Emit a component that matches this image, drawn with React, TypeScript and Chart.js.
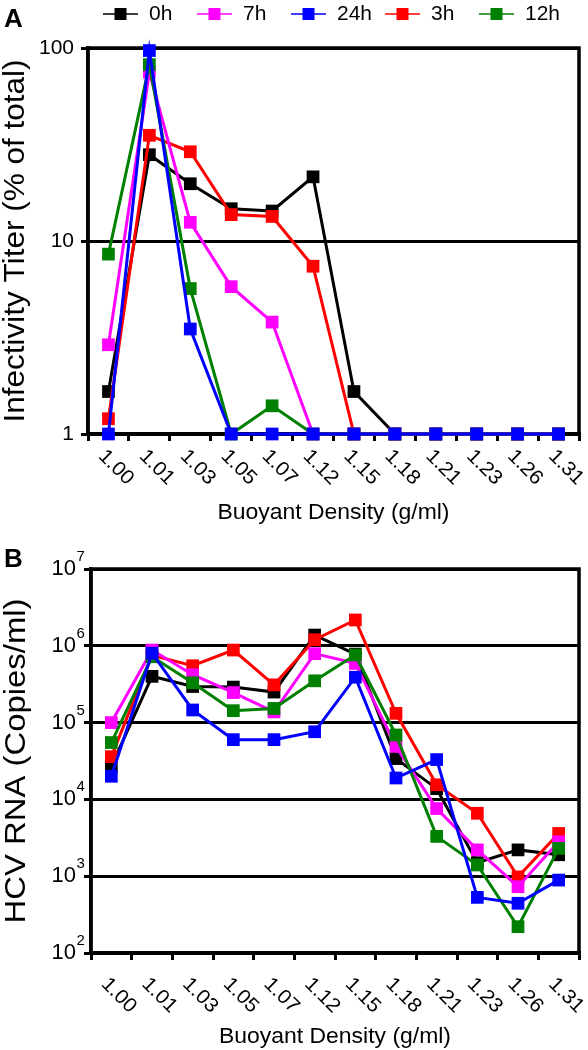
import React, { useEffect, useRef } from "react";
import { Chart, registerables } from "chart.js";

Chart.register(...registerables);

const FONT = '"Liberation Sans", Arial, Helvetica, sans-serif';

// ---- data ----
const densities = ["1.00", "1.01", "1.03", "1.05", "1.07", "1.12", "1.15", "1.18", "1.21", "1.23", "1.26", "1.31"];
const seriesNames = ["0h", "7h", "24h", "3h", "12h"];
const seriesColors = ["#000000", "#ff00ff", "#0000ff", "#ff0000", "#008000"];
// lower value = drawn on top
const seriesDrawOrder = [4, 2, 0, 3, 1];

// Panel A: infectivity titer (% of total)
const titer0h = [1.66, 28, 19.8, 14.7, 14.3, 21.5, 1.66, 1, 1, 1, 1, 1];
const titer7h = [2.9, 75, 12.5, 5.8, 3.8, 1, 1, 1, 1, 1, 1, 1];
const titer24h = [1, 97, 3.5, 1, 1, 1, 1, 1, 1, 1, 1, 1];
const titer3h = [1.2, 35.3, 29, 13.7, 13.4, 7.4, 1, 1, 1, 1, 1, 1];
const titer12h = [8.55, 82, 5.67, 1, 1.4, 1, 1, 1, 1, 1, 1, 1];
const titerTicks = [1, 10, 100];
const titerTickLabels = ["1", "10", "100"];

// Panel B: HCV RNA (copies/ml)
const rna0h = [2.7e4, 4.0e5, 2.95e5, 2.9e5, 2.5e5, 1.38e6, 7.8e5, 3.4e4, 1.38e4, 1.5e3, 2.2e3, 1.9e3];
const rna7h = [1.0e5, 8.8e5, 4.2e5, 2.46e5, 1.38e5, 7.9e5, 5.9e5, 4.9e4, 7.6e3, 2.2e3, 730, 2.8e3];
const rna24h = [2.0e4, 8.0e5, 1.46e5, 6.0e4, 6.0e4, 7.6e4, 3.9e5, 1.9e4, 3.3e4, 530, 444, 890];
const rna3h = [3.6e4, 7.5e5, 5.5e5, 8.8e5, 3.1e5, 1.2e6, 2.17e6, 1.32e5, 1.55e4, 6.6e3, 980, 3.6e3];
const rna12h = [5.5e4, 7.2e5, 3.3e5, 1.43e5, 1.53e5, 3.5e5, 7.6e5, 6.9e4, 3.3e3, 1.4e3, 220, 2.3e3];
const rnaTicks = [1e2, 1e3, 1e4, 1e5, 1e6, 1e7];
const rnaTickExponents = ["2", "3", "4", "5", "6", "7"];

const xTitle = "Buoyant Density (g/ml)";

type Panel = {
  letter: string;
  canvasHeight: number;
  area: { left: number; top: number; right: number; bottom: number };
  series: number[][];
  yMin: number;
  yMax: number;
  yTicks: number[];
  yTitle: string;
  yTitleX: number;
  yTitleLen: number;
  xLabelDy: number;
  xTitleBaseline: number;
  letterBaseline: number;
  legend: boolean;
  superscript: boolean;
};

const panelA: Panel = {
  letter: "A",
  canvasHeight: 530,
  area: { left: 88, top: 48, right: 583, bottom: 434 },
  series: [titer0h, titer7h, titer24h, titer3h, titer12h],
  yMin: 1,
  yMax: 100,
  yTicks: titerTicks,
  yTitle: "Infectivity Titer (% of total)",
  yTitleX: 16,
  yTitleLen: 363,
  xLabelDy: 19,
  xTitleBaseline: 519,
  letterBaseline: 27,
  legend: true,
  superscript: false,
};

const panelB: Panel = {
  letter: "B",
  canvasHeight: 520,
  area: { left: 91, top: 39, right: 583, bottom: 423 },
  series: [rna0h, rna7h, rna24h, rna3h, rna12h],
  yMin: 1e2,
  yMax: 1e7,
  yTicks: rnaTicks,
  yTitle: "HCV RNA (Copies/ml)",
  yTitleX: 17,
  yTitleLen: 325,
  xLabelDy: 28,
  xTitleBaseline: 513,
  letterBaseline: 37,
  legend: false,
  superscript: true,
};

type TextOpts = {
  font: string;
  rotate?: number;
  sx?: number;
  width?: number;
  align?: CanvasTextAlign;
  baseline?: CanvasTextBaseline;
  color?: string;
};

function drawText(ctx: CanvasRenderingContext2D, text: string, x: number, y: number, o: TextOpts) {
  ctx.save();
  ctx.translate(x, y);
  if (o.rotate) ctx.rotate(o.rotate);
  ctx.font = o.font;
  let sx = o.sx ?? 1;
  if (o.width) sx = o.width / ctx.measureText(text).width;
  ctx.scale(sx, 1);
  ctx.textAlign = o.align ?? "left";
  ctx.textBaseline = o.baseline ?? "alphabetic";
  ctx.fillStyle = o.color ?? "#000";
  ctx.fillText(text, 0, 0);
  ctx.restore();
}

function decorPlugin(p: Panel) {
  return {
    id: "panelDecor",
    beforeDatasetsDraw(chart: any) {
      const { ctx, chartArea: a } = chart;
      ctx.save();
      ctx.strokeStyle = "#000";
      ctx.lineWidth = 3.5;
      ctx.strokeRect(a.left, a.top, a.right - a.left, a.bottom - a.top);
      ctx.restore();
    },
    afterDraw(chart: any) {
      const ctx: CanvasRenderingContext2D = chart.ctx;
      const a = chart.chartArea;
      const xs = chart.scales.x;
      const ys = chart.scales.y;

      drawText(ctx, p.letter, 4, p.letterBaseline, { font: `bold 26px ${FONT}` });

      drawText(ctx, p.yTitle, p.yTitleX, (a.top + a.bottom) / 2, {
        font: `29px ${FONT}`,
        rotate: -Math.PI / 2,
        align: "center",
        baseline: "middle",
        width: p.yTitleLen,
      });

      densities.forEach((d, i) => {
        const x = xs.getPixelForValue(i);
        drawText(ctx, d, x - 7, a.bottom + p.xLabelDy, {
          font: `20px ${FONT}`,
          rotate: Math.PI / 4,
          baseline: "middle",
          sx: 1.05,
        });
      });

      drawText(ctx, xTitle, (a.left + a.right) / 2, p.xTitleBaseline, {
        font: `22px ${FONT}`,
        align: "center",
        width: 232,
      });

      if (p.superscript) {
        rnaTicks.forEach((v, i) => {
          const y = ys.getPixelForValue(v);
          const right = a.left - 15;
          drawText(ctx, "10", right, y + 6, { font: `22px ${FONT}`, align: "right" });
          drawText(ctx, rnaTickExponents[i], right + 0.5, y - 8, { font: `15px ${FONT}` });
        });
      }

      if (p.legend) {
        seriesNames.forEach((name, i) => {
          const lx = 103 + i * 94;
          const y = 14;
          ctx.save();
          ctx.strokeStyle = seriesColors[i];
          ctx.lineWidth = 1.5;
          ctx.beginPath();
          ctx.moveTo(lx, y);
          ctx.lineTo(lx + 35, y);
          ctx.stroke();
          ctx.fillStyle = seriesColors[i];
          ctx.fillRect(lx + 17.5 - 6, y - 6, 12, 12);
          ctx.restore();
          drawText(ctx, name, lx + 46, y + 6, { font: `21px ${FONT}` });
        });
      }
    },
  };
}

function buildConfig(p: Panel): any {
  const datasets = seriesNames.map((name, i) => ({
    label: name,
    data: p.series[i],
    borderColor: seriesColors[i],
    backgroundColor: seriesColors[i],
    pointBackgroundColor: seriesColors[i],
    pointBorderColor: seriesColors[i],
    pointStyle: "rect",
    pointRadius: 9,
    pointHoverRadius: 9,
    pointBorderWidth: 0,
    borderWidth: 3,
    tension: 0,
    clip: false,
    order: seriesDrawOrder[i],
  }));
  return {
    type: "line",
    data: { labels: densities, datasets },
    options: {
      responsive: false,
      animation: false,
      devicePixelRatio: 1,
      layout: {
        padding: { left: 0, top: p.area.top, right: 588 - p.area.right, bottom: 0 },
      },
      plugins: {
        legend: { display: false },
        tooltip: { enabled: false },
        title: { display: false },
      },
      scales: {
        x: {
          type: "category",
          offset: true,
          grid: {
            display: true,
            drawOnChartArea: false,
            drawTicks: true,
            tickLength: 7,
            color: "#000",
            lineWidth: 3,
            offset: true,
          },
          border: { display: true, color: "#000", width: 3.5 },
          ticks: { display: false },
          afterFit: (s: any) => {
            s.height = p.canvasHeight - p.area.bottom;
          },
        },
        y: {
          type: "logarithmic",
          min: p.yMin,
          max: p.yMax,
          afterBuildTicks: (s: any) => {
            s.ticks = p.yTicks.map((v) => ({ value: v }));
          },
          grid: { color: "#000", lineWidth: 3, drawTicks: true, tickLength: 7 },
          border: { display: true, color: "#000", width: 3.5 },
          ticks: {
            display: !p.superscript,
            color: "#000",
            padding: 7,
            font: { family: FONT, size: 21 },
            callback: (v: any) => {
              const idx = titerTicks.indexOf(Number(v));
              return idx >= 0 ? titerTickLabels[idx] : "";
            },
          },
          afterFit: (s: any) => {
            s.width = p.area.left;
          },
        },
      },
    },
    plugins: [decorPlugin(p)],
  };
}

function PanelChart({ panel, top }: { panel: Panel; top: number }) {
  const ref = useRef<HTMLCanvasElement>(null);
  useEffect(() => {
    const canvas = ref.current;
    if (!canvas) return;
    const chart = new Chart(canvas, buildConfig(panel));
    return () => chart.destroy();
  }, [panel]);
  return (
    <canvas
      ref={ref}
      width={588}
      height={panel.canvasHeight}
      style={{ position: "absolute", left: 0, top, width: 588, height: panel.canvasHeight, display: "block" }}
    />
  );
}

export default function App() {
  return (
    <div style={{ position: "absolute", left: 0, top: 0, width: 588, height: 1050, background: "#fff", overflow: "hidden" }}>
      <PanelChart panel={panelA} top={0} />
      <PanelChart panel={panelB} top={530} />
    </div>
  );
}
